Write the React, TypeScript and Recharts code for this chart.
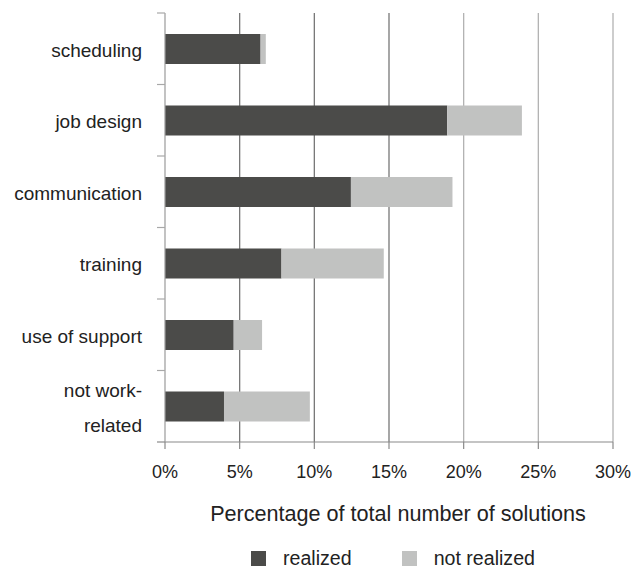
import React from 'react';
import { BarChart, Bar, XAxis, YAxis, CartesianGrid, Legend } from 'recharts';

const categories = ['scheduling', 'job design', 'communication', 'training', 'use of support', 'not work-related'];
const realized = [6.4, 18.9, 12.45, 7.8, 4.6, 3.95];
const notRealized = [0.35, 5.0, 6.8, 6.85, 1.9, 5.75];
const xTicks = [0, 5, 10, 15, 20, 25, 30];
const seriesNames = ['realized', 'not realized'];

const data = categories.map((name, i) => ({ name, realized: realized[i], notRealized: notRealized[i] }));

const W = 644;
const H = 568;
const MARGIN = { top: 13, right: 31, left: 0, bottom: 62 };
const X_AXIS_H = 64;
const Y_AXIS_W = 165;
const PLOT_H = H - MARGIN.top - MARGIN.bottom - X_AXIS_H;
const BAND = PLOT_H / categories.length;
const FONT = '"Liberation Sans", Arial, Helvetica, sans-serif';
const DARK = '#4b4b49';
const LIGHT = '#c1c2c1';
const TEXT = '#222222';
const Y_TICK_SIZE = 8;
const Y_TICK_MARGIN = 15;

const CategoryTick = (props: any) => {
  const { x, y, payload, index } = props;
  const axisX = x + Y_TICK_SIZE + Y_TICK_MARGIN;
  const label: string = String(payload.value);
  const hy = label.indexOf('-');
  const lines = hy >= 0 ? [label.slice(0, hy + 1), label.slice(hy + 1)] : [label];
  const last = index === categories.length - 1;
  return (
    <g>
      <line x1={axisX - Y_TICK_SIZE} x2={axisX} y1={y - BAND / 2} y2={y - BAND / 2} stroke="#a8a8a8" strokeWidth={1.2} />
      {last && (
        <line x1={axisX - Y_TICK_SIZE} x2={axisX} y1={y + BAND / 2} y2={y + BAND / 2} stroke="#8a8a8a" strokeWidth={1.2} />
      )}
      <text x={x} y={lines.length > 1 ? y - 9 : y + 8} textAnchor="end" fill={TEXT} fontSize={19} fontFamily={FONT}>
        {lines.map((l, i) => (
          <tspan key={i} x={x} dy={i === 0 ? 0 : 35}>
            {l}
          </tspan>
        ))}
      </text>
    </g>
  );
};

const GridLine = (props: any) => {
  const { x1, x2, y1, y2, index } = props;
  if (index === 0) return <g />;
  return <line x1={x1} x2={x2} y1={y1} y2={y2} stroke={index <= 3 ? '#777777' : '#b2b2b2'} strokeWidth={1.3} />;
};

const LegendContent = () => {
  const colors = [DARK, LIGHT];
  return (
    <div style={{ display: 'flex', alignItems: 'center', fontFamily: FONT, fontSize: 19.6, color: TEXT, whiteSpace: 'nowrap' }}>
      {seriesNames.map((n, i) => (
        <div key={n} style={{ display: 'flex', alignItems: 'center', marginRight: i === 0 ? 50 : 0 }}>
          <span style={{ display: 'inline-block', width: 15, height: 15, background: colors[i], marginRight: 17 }} />
          <span>{n}</span>
        </div>
      ))}
    </div>
  );
};

export default function App() {
  return (
    <div style={{ position: 'absolute', left: 0, top: 0, width: W, height: H, background: '#fff' }}>
      <BarChart width={W} height={H} data={data} layout="vertical" margin={MARGIN} barSize={30}>
        <CartesianGrid horizontal={false} vertical={GridLine as any} />
        <XAxis
          type="number"
          domain={[0, 30]}
          ticks={xTicks}
          tickFormatter={(v: number) => `${v}%`}
          height={X_AXIS_H}
          tickSize={7}
          tickMargin={16}
          axisLine={{ stroke: '#8a8a8a', strokeWidth: 1.2 }}
          tickLine={{ stroke: '#8a8a8a', strokeWidth: 1.2 }}
          tick={{ fill: TEXT, fontSize: 18, fontFamily: FONT }}
          label={{
            value: 'Percentage of total number of solutions',
            position: 'bottom',
            offset: 0,
            dx: 9,
            fill: TEXT,
            fontSize: 21.6,
            fontFamily: FONT,
          }}
        />
        <YAxis
          type="category"
          dataKey="name"
          width={Y_AXIS_W}
          tickSize={Y_TICK_SIZE}
          tickMargin={Y_TICK_MARGIN}
          tickLine={false}
          axisLine={{ stroke: '#9a9a9a', strokeWidth: 1.2 }}
          tick={<CategoryTick />}
          interval={0}
        />
        <Legend
          layout="horizontal"
          verticalAlign="middle"
          align="center"
          wrapperStyle={{ left: 251, top: 547, width: 'auto' }}
          content={<LegendContent />}
        />
        <Bar dataKey="realized" name={seriesNames[0]} stackId="a" fill={DARK} isAnimationActive={false} />
        <Bar dataKey="notRealized" name={seriesNames[1]} stackId="a" fill={LIGHT} isAnimationActive={false} />
      </BarChart>
    </div>
  );
}
